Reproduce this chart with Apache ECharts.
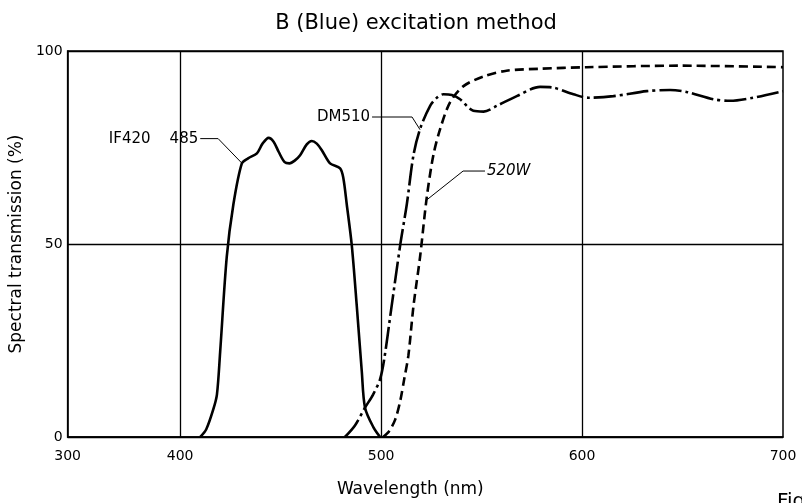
<!DOCTYPE html>
<html>
<head>
<meta charset="utf-8">
<script src="https://cdn.jsdelivr.net/npm/echarts@6/dist/echarts.min.js"></script>
<style>
  html, body { margin: 0; padding: 0; background: #fff; }
  #chart { width: 802px; height: 503px; }
</style>
</head>
<body>
<div id="chart"></div>
<script>
// wavelength (nm), transmission (%)
const if420 = [[410,0],[413,2],[416.4,7],[418.3,11],[419.9,22],[423.2,46.7],[426.5,60.3],[430.7,70.9],[433.8,72.2],[438.2,73.5],[441,76],[444,77.5],[446.5,76.5],[449,73.9],[452,71.2],[454.4,70.9],[457,71.6],[459.7,73],[463,75.8],[465.5,76.7],[468,76],[470.5,74.3],[474.6,70.9],[479.6,69.6],[481.2,67.1],[482.9,60.3],[485.4,49.7],[487.9,33.9],[490.4,16.9],[492,7.6],[496.2,2.5],[499.5,0]];
const dm510 = [[482,0],[487,3],[492,7.6],[496,11],[499.5,15],[501.5,20],[505,33],[509.5,49.7],[512.8,60.3],[516.1,73],[519.4,79.8],[524.4,85.8],[528,88],[531,88.8],[535.2,88.6],[539.3,87.5],[545.9,84.5],[551,84.3],[557.6,85.8],[567.5,88.3],[579.1,90.7],[585.7,90.5],[595.7,88.8],[603.1,87.9],[615.6,88.3],[632.2,89.6],[643.8,89.9],[652,89.4],[665.3,87.5],[673.6,87.1],[685.2,87.9],[700,89.6]];
const w520 = [[501,0],[504,1.5],[507,4.5],[509.5,9.3],[511.5,15],[513.6,21.2],[516.1,33.9],[519.4,46.7],[522.7,62],[526,73],[529.4,79.8],[534.3,86.7],[541,90.9],[551,93.4],[562.4,94.9],[579.1,95.4],[602.3,95.8],[648.8,96.2],[700,95.8]];

// x axis is compressed left of 400 nm; axis start stands for 300
const xStart = 344;
const xTicks = [344, 400, 500, 600, 700];
const xTickLabels = ['300', '400', '500', '600', '700'];
const gridX = [400, 500, 600];

// annotation leaders and their texts
const leaders = [
    { text: 'IF420    485', side: 'left', pts: [[410,77.3],[418.9,77.3],[430.8,70.9]] },
    { text: 'DM510', side: 'left', pts: [[495.5,82.9],[515.4,82.9],[519.4,79.6]] },
    { text: '520W', side: 'right', pts: [[551.7,68.9],[540.8,68.9],[522.9,61.5]] }
];

let chart = echarts.init(document.getElementById('chart'));
const ink = '#000';

let series = [
    {
        name: 'IF420-485', type: 'line', data: if420, smooth: 0.3, showSymbol: false,
        lineStyle: { color: ink, width: 2.6 },
        markLine: {
            silent: true, symbol: 'none', label: { show: false },
            lineStyle: { color: ink, width: 1.3, type: 'solid' },
            data: gridX.map(v => ({ xAxis: v }))
        }
    },
    {
        name: 'DM510', type: 'line', data: dm510, smooth: 0.3, showSymbol: false,
        lineStyle: { color: ink, width: 2.6, type: [22, 4, 3, 4] }
    },
    {
        name: '520W', type: 'line', data: w520, smooth: 0.3, showSymbol: false,
        lineStyle: { color: ink, width: 2.6, type: [9, 5] }
    }
];

leaders.forEach(l => {
    series.push({
        type: 'line', data: l.pts, showSymbol: false, silent: true,
        lineStyle: { color: ink, width: 1 }
    });
    series.push({
        type: 'scatter', symbolSize: 0, silent: true,
        data: [[l.pts[0][0], l.pts[0][1], l.text]],
        itemStyle: { color: ink, opacity: 1 },
        label: {
            show: true, position: l.side, distance: 2,
            formatter: p => p.value[2],
            fontFamily: 'DejaVu Sans', fontSize: 15, color: ink,
            fontStyle: l.text === '520W' ? 'italic' : 'normal'
        }
    });
});

let option = {
    animation: false,
    title: {
        text: 'B (Blue) excitation method',
        left: 411, top: 8, textAlign: 'center',
        textStyle: { fontFamily: 'DejaVu Sans', fontSize: 21, fontWeight: 'normal', color: ink }
    },
    grid: { left: 67, right: 19, top: 51, bottom: 60, show: true, borderColor: ink, borderWidth: 1.5 },
    xAxis: {
        type: 'value', min: xStart, max: 700,
        name: 'Wavelength (nm)', nameLocation: 'middle', nameGap: 44,
        nameTextStyle: { fontFamily: 'DejaVu Sans', fontSize: 17, color: ink, padding: [0, 30, 0, 0] },
        axisLine: { lineStyle: { color: ink, width: 1.5 } },
        axisTick: { show: false, customValues: xTicks },
        splitLine: { show: false },
        axisLabel: {
            customValues: xTicks, margin: 12,
            formatter: v => xTickLabels[xTicks.indexOf(v)],
            fontFamily: 'DejaVu Sans', fontSize: 14, color: ink
        }
    },
    yAxis: {
        type: 'value', min: 0, max: 100, interval: 50,
        name: 'Spectral transmission (%)', nameLocation: 'middle', nameGap: 42,
        nameTextStyle: { fontFamily: 'DejaVu Sans', fontSize: 17, color: ink },
        axisLine: { show: true, lineStyle: { color: ink, width: 1.5 } },
        axisTick: { show: false },
        splitLine: { show: true, lineStyle: { color: ink, width: 1.3 } },
        axisLabel: { margin: 5, fontFamily: 'DejaVu Sans', fontSize: 14, color: ink }
    },
    graphic: [
        { type: 'text', left: 777, top: 492, style: { text: 'Fig', fontFamily: 'DejaVu Sans', fontSize: 20, fill: ink } }
    ],
    series: series
};

chart.setOption(option);
</script>
</body>
</html>
